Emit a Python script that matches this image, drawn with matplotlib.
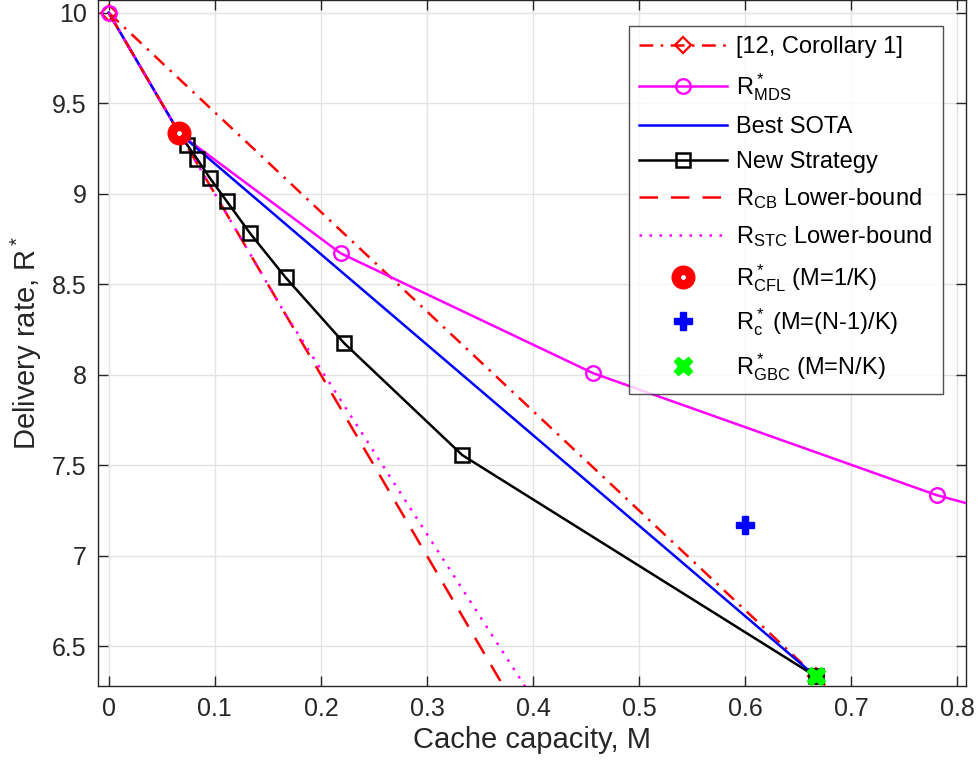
import numpy as np
import matplotlib
matplotlib.use("Agg")
import matplotlib.pyplot as plt

plt.rcParams['font.family'] = ['Liberation Sans', 'DejaVu Sans']
plt.rcParams['mathtext.fontset'] = 'custom'
plt.rcParams['mathtext.rm'] = 'Liberation Sans'
plt.rcParams['mathtext.it'] = 'Liberation Sans:italic'
plt.rcParams['mathtext.bf'] = 'Liberation Sans:bold'

# 数据
M_cor = [0, 2/3, 1.0]
R_cor = [10, 6.333, 4.5]

M_mds = [0, 1/15, 0.2187, 0.4566, 0.7805, 1.2]
R_mds = [10, 9.333, 8.671, 8.009, 7.335, 6.667]

M_sota = [0, 1/15, 2/3]
R_sota = [10, 9.333, 6.333]

# 新策略: M = N/(K t), t = 10..1
M_new = [2/(3*t) for t in range(10, 0, -1)]
R_new = [9.333, 9.269, 9.192, 9.088, 8.960, 8.781, 8.538, 8.173, 7.556, 6.333]

M_cb = [0, 0.5]
R_cb = [10, 5.0]

M_stc = [0, 1/15, 1/6, 0.5]
R_stc = [10, 9.333, 8.333, 5.30]

M_cfl, R_cfl = [1/15], [9.333]
M_c, R_c = [0.6], [7.170]
M_gbc, R_gbc = [2/3], [6.333]

xticks = [0, 0.1, 0.2, 0.3, 0.4, 0.5, 0.6, 0.7, 0.8]
xticklabels = ['0', '0.1', '0.2', '0.3', '0.4', '0.5', '0.6', '0.7', '0.8']
yticks = [6.5, 7, 7.5, 8, 8.5, 9, 9.5, 10]
yticklabels = ['6.5', '7', '7.5', '8', '8.5', '9', '9.5', '10']

fig = plt.figure(figsize=(9.79, 7.75), dpi=100)
ax = fig.add_axes([0.0998, 0.1152, 0.8866, 0.8842])

lw = 1.8
ax.plot(M_new, R_new, '-', color='k', lw=lw, marker='s', ms=9.5, mfc='none',
        mew=1.8, label='New Strategy', zorder=4)
ax.plot(M_cor, R_cor, color='r', lw=lw, linestyle=(0, (5.5, 3, 1, 3)),
        marker='D', ms=8.5, mfc='none', mew=1.6, label='[12, Corollary 1]', zorder=3)
ax.plot(M_mds, R_mds, '-', color='#ff00ff', lw=lw, marker='o', ms=10.5,
        mfc='none', mew=1.7, label=r'R$^*_{\mathrm{MDS}}$', zorder=3)
ax.plot(M_sota, R_sota, '-', color='b', lw=lw, label='Best SOTA', zorder=3)
ax.plot(M_cb, R_cb, color='r', lw=lw, linestyle=(0, (7.4, 5.2)),
        label=r'R$_{\mathrm{CB}}$ Lower-bound', zorder=3)
ax.plot(M_stc, R_stc, color='#ff00ff', lw=lw, linestyle=(0, (1, 3)),
        label=r'R$_{\mathrm{STC}}$ Lower-bound', zorder=3)
ax.plot(M_cfl, R_cfl, linestyle='none', marker='o', ms=10.5, mfc='white',
        mec='r', mew=6.8, label=r'R$^*_{\mathrm{CFL}}$ (M=1/K)', zorder=6)
ax.plot(M_c, R_c, linestyle='none', marker='P', ms=13, color='b', mec='b',
        label=r'R$^*_{\mathrm{c}}$ (M=(N-1)/K)', zorder=6)
ax.plot(M_gbc, R_gbc, linestyle='none', marker='X', ms=13, color='#00ff00',
        mec='#00ff00', label=r'R$^*_{\mathrm{GBC}}$ (M=N/K)', zorder=6)

ax.set_xlim(-0.0104, 0.8079)
ax.set_ylim(6.282, 10.068)
ax.set_xticks(xticks)
ax.set_xticklabels(xticklabels)
ax.set_yticks(yticks)
ax.set_yticklabels(yticklabels)
ax.tick_params(direction='in', length=7, width=1, labelsize=18, colors='#262626',
               top=True, right=True, pad=8)
for s in ax.spines.values():
    s.set_color('#262626')
    s.set_linewidth(1)
ax.grid(True, color='#e3e3e3', lw=1)
ax.set_axisbelow(True)

ax.set_xlabel('Cache capacity, M', fontsize=21, color='#262626', labelpad=4)
ax.set_ylabel(r'Delivery rate, R$^*$', fontsize=21, color='#262626', labelpad=6)

handles, labels = ax.get_legend_handles_labels()
order = [1, 2, 3, 0, 4, 5, 6, 7, 8]
leg = ax.legend([handles[i] for i in order], [labels[i] for i in order],
                loc='upper right', bbox_to_anchor=(0.9735, 0.963), fontsize=17,
                frameon=True, fancybox=False, edgecolor='#262626',
                handlelength=3.7, borderpad=0.45, labelspacing=0.55,
                handletextpad=0.4, borderaxespad=0)
leg.get_frame().set_linewidth(1)

fig.savefig('out.png', dpi=100)
